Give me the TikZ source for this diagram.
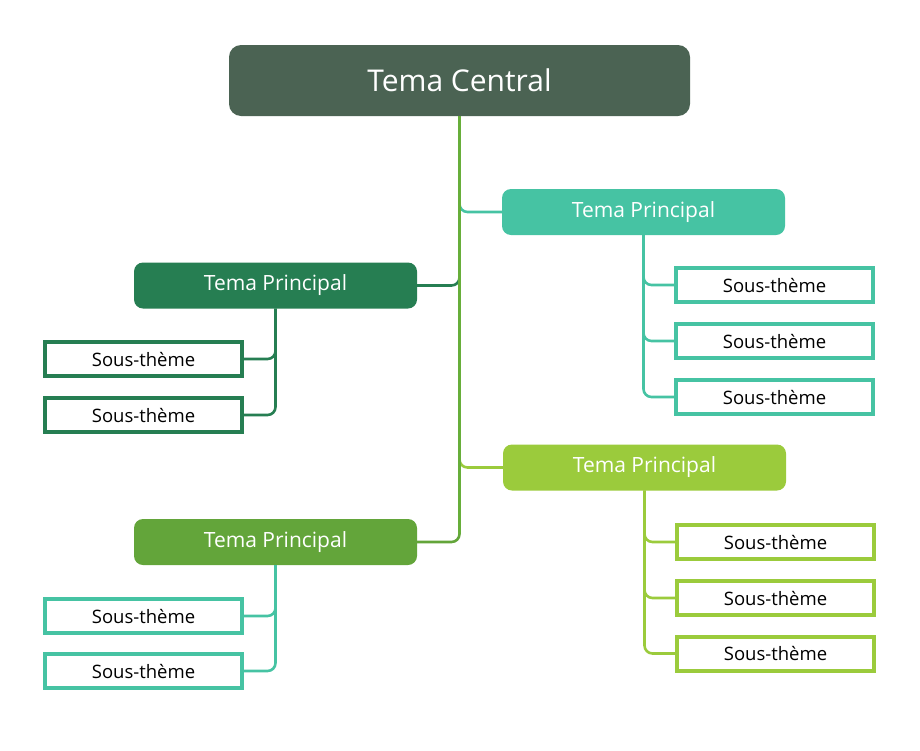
\documentclass[tikz,border=0pt]{standalone}
\usepackage{fontspec}
\setmainfont{Open Sans}
\usepackage{tikz}
\usetikzlibrary{positioning,calc}

\definecolor{central}{HTML}{4B6353}
\definecolor{teal}{HTML}{46C3A3}
\definecolor{forest}{HTML}{267E52}
\definecolor{lime}{HTML}{9BCB3C}
\definecolor{grass}{HTML}{63A53A}
\definecolor{trunk}{HTML}{67AE3A}

\begin{document}
\begin{tikzpicture}[
    x=1pt, y=-1pt,
    centre/.style={rectangle, rounded corners=12pt, fill=central, text=white, minimum width=461pt, minimum height=71pt, inner sep=0pt, font=\fontsize{30}{36}\selectfont},
    main/.style={rectangle, rounded corners=9pt, fill=#1, text=white, minimum width=283pt, minimum height=46pt, inner sep=0pt, font=\fontsize{21}{25}\selectfont},
    sub/.style={rectangle, draw=#1, line width=4pt, fill=white, minimum width=197pt, minimum height=34pt, inner sep=0pt, font=\fontsize{18.5}{22}\selectfont},
    link/.style={draw=#1, line width=2.6pt, rounded corners=8pt},
]
    \useasboundingbox (0,0) rectangle (920,750);

    % Central topic
    \node[centre] (tc) at (459.5,80.5) {Tema Central};

    % Main topics
    \node[main=teal] (tp1) at (643.5,212) {Tema Principal};
    \node[main=forest] (tp2) at (275.5,285.5) {Tema Principal};
    \node[main=lime] (tp3) at (644.5,467.5) {Tema Principal};
    \node[main=grass] (tp4) at (275.5,542) {Tema Principal};

    % Sub topics
    \node[sub=teal] (s11) at (774.5,285) {Sous-thème};
    \node[sub=teal] (s12) at (774.5,341) {Sous-thème};
    \node[sub=teal] (s13) at (774.5,397) {Sous-thème};
    \node[sub=forest] (s21) at (143.5,359) {Sous-thème};
    \node[sub=forest] (s22) at (143.5,415) {Sous-thème};
    \node[sub=lime] (s31) at (775.5,542) {Sous-thème};
    \node[sub=lime] (s32) at (775.5,598) {Sous-thème};
    \node[sub=lime] (s33) at (775.5,653.5) {Sous-thème};
    \node[sub=teal] (s41) at (143.5,616) {Sous-thème};
    \node[sub=teal] (s42) at (143.5,671) {Sous-thème};

    % Branches from the trunk
    \draw[link=teal] (tc.south) |- (tp1.west);
    \draw[link=lime] (tc.south) |- (tp3.west);
    \draw[link=forest] (tp2.east) -| (tc.south);
    \draw[link=grass] (tp4.east) -| (tc.south);
    \draw[draw=trunk, line width=2.6pt] (tc.south) -- ($(tc.south |- tp4.east)+(0,-8)$);

    % Branches to sub topics
    \foreach \s in {s11,s12,s13} \draw[link=teal] (tp1.south) |- (\s.west);
    \foreach \s in {s21,s22} \draw[link=forest] (tp2.south) |- (\s.east);
    \foreach \s in {s31,s32,s33} \draw[link=lime] (tp3.south) |- (\s.west);
    \foreach \s in {s41,s42} \draw[link=teal] (tp4.south) |- (\s.east);
\end{tikzpicture}
\end{document}
